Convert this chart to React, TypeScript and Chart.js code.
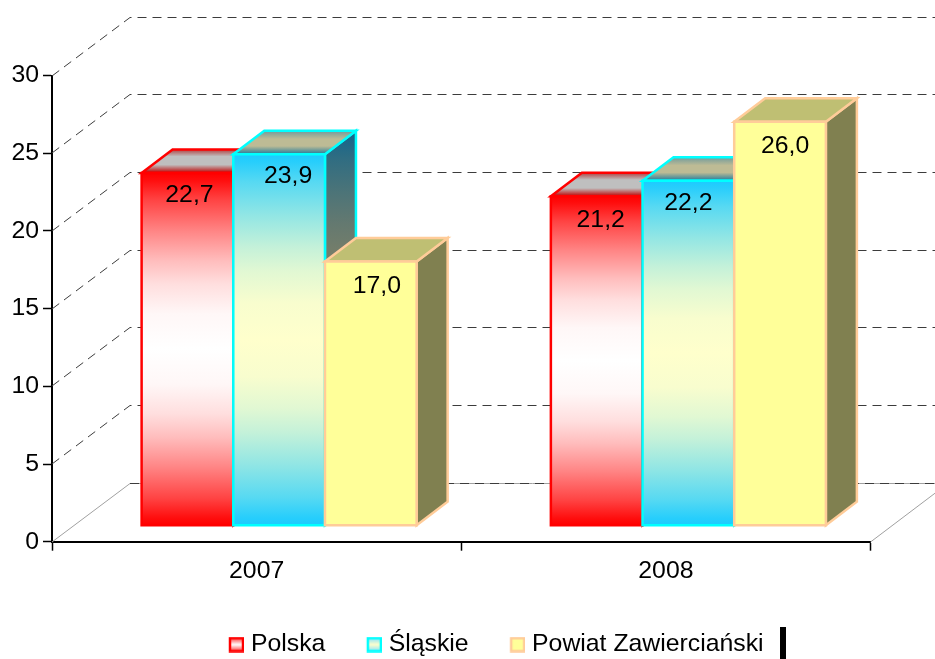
import React, { useEffect, useRef } from "react";
import { Chart, registerables } from "chart.js";

Chart.register(...registerables);

const categories = ["2007", "2008"];
const seriesNames = ["Polska", "Śląskie", "Powiat Zawierciański"];
const polska = [22.7, 21.2];
const slaskie = [23.9, 22.2];
const powiat = [17.0, 26.0];
const yTicks = [0, 5, 10, 15, 20, 25, 30];

const FONT = "'Liberation Sans', Arial, sans-serif";
const FONT_SIZE = 24.8;

// 3D projection
const WALL_DX = 78;
const WALL_DY = -59;
const BAR_SHIFT_X = 22.5;
const BAR_SHIFT_Y = -16;
const DEPTH_X = 31;
const DEPTH_Y = -23.5;

type Stops = [number, string][];
type Skin = {
  edge: string;
  front: Stops;
  side: Stops;
  top: Stops;
  swatch: Stops;
};

// Soft fade from the end colour to the centre colour, as in the original gradient
const fade: [number, number][] = [
  [0, 0],
  [0.04, 0.05],
  [0.15, 0.26],
  [0.33, 0.52],
  [0.5, 0.74],
  [0.63, 0.87],
  [0.8, 0.97],
  [1, 1],
];

function mix(a: number[], b: number[], t: number) {
  return `rgb(${a.map((v, i) => Math.round(v + (b[i] - v) * t)).join(",")})`;
}

function softStops(end: number[], mid: number[]): Stops {
  const half: Stops = fade.map(([p, t]) => [p / 2, mix(end, mid, t)]);
  const other: Stops = fade
    .slice(0, -1)
    .reverse()
    .map(([p, t]) => [1 - p / 2, mix(end, mid, t)]);
  return [...half, ...other];
}

const skins: Skin[] = [
  {
    edge: "#ff0000",
    front: softStops([255, 0, 0], [255, 255, 255]),
    side: softStops([128, 0, 0], [128, 128, 128]),
    top: [[0, "#b04040"], [0.3, "#bfbfbf"], [0.65, "#bfbfbf"], [1, "#bf0000"]],
    swatch: [[0, "#ff3030"], [0.5, "#ffffff"], [1, "#ff3030"]],
  },
  {
    edge: "#00ffff",
    front: softStops([28, 203, 255], [255, 255, 204]),
    side: softStops([20, 102, 140], [128, 128, 102]),
    top: [[0, "#6f9a9c"], [0.35, "#bdbb95"], [0.65, "#bdbb95"], [1, "#1f7a9c"]],
    swatch: [[0, "#7fe0ff"], [0.5, "#ffffcc"], [1, "#7fe0ff"]],
  },
  {
    edge: "#ffcc99",
    front: [[0, "#ffff99"], [1, "#ffff99"]],
    side: [[0, "#808050"], [1, "#808050"]],
    top: [[0, "#bfbf73"], [1, "#bfbf73"]],
    swatch: [[0, "#ffff99"], [1, "#ffff99"]],
  },
];

// Small horizontal / vertical nudges of the value labels, per dataset and category
const labelNudge = [
  [[2, 22], [4, 24]],
  [[9, 22], [0, 22]],
  [[6, 25], [5, 24.5]],
];

function fillGradient(
  ctx: CanvasRenderingContext2D,
  y0: number,
  y1: number,
  stops: Stops
) {
  const g = ctx.createLinearGradient(0, y0, 0, y1);
  stops.forEach(([o, c]) => g.addColorStop(o, c));
  return g;
}

function swatch(skin: Skin) {
  const c = document.createElement("canvas");
  c.width = 51;
  c.height = 16;
  const ctx = c.getContext("2d")!;
  ctx.fillStyle = fillGradient(ctx, 1, 15, skin.swatch);
  ctx.fillRect(37, 1, 13, 14);
  ctx.strokeStyle = skin.edge;
  ctx.lineWidth = 2.5;
  ctx.strokeRect(37, 1.5, 13, 13);
  return c;
}

function poly(ctx: CanvasRenderingContext2D, pts: number[][]) {
  ctx.beginPath();
  pts.forEach(([x, y], i) => (i ? ctx.lineTo(x, y) : ctx.moveTo(x, y)));
  ctx.closePath();
}

const wallsPlugin = {
  id: "walls",
  beforeDatasetsDraw(chart: any) {
    const { ctx, scales, chartArea } = chart;
    const y = scales.y;
    const left = chartArea.left;
    const right = chartArea.right;
    ctx.save();
    ctx.lineWidth = 1;
    yTicks.forEach((v) => {
      const py = Math.round(y.getPixelForValue(v));
      const by = py + WALL_DY + 0.5;
      if (v === 0) {
        ctx.strokeStyle = "#a0a0a0";
        ctx.setLineDash([]);
        ctx.beginPath();
        ctx.moveTo(left, py);
        ctx.lineTo(left + WALL_DX, by);
        ctx.lineTo(935, by);
        ctx.moveTo(right, py);
        ctx.lineTo(right + WALL_DX, py + WALL_DY);
        ctx.stroke();
      }
      ctx.strokeStyle = "#3c3c3c";
      ctx.setLineDash([9, 6]);
      ctx.beginPath();
      if (v !== 0) {
        ctx.moveTo(left, py);
        ctx.lineTo(left + WALL_DX, by);
      } else {
        ctx.moveTo(left + WALL_DX, by);
      }
      ctx.lineTo(935, by);
      ctx.stroke();
    });
    ctx.restore();
  },
};

const barsPlugin = {
  id: "bars3d",
  afterDatasetsDraw(chart: any) {
    const { ctx } = chart;
    const labels: [string, number, number][] = [];
    chart.data.datasets.forEach((ds: any, di: number) => {
      const skin = skins[di];
      chart.getDatasetMeta(di).data.forEach((bar: any, i: number) => {
        const x0 = bar.x - bar.width / 2 + BAR_SHIFT_X;
        const x1 = bar.x + bar.width / 2 + BAR_SHIFT_X;
        const top = bar.y + BAR_SHIFT_Y;
        const base = bar.base + BAR_SHIFT_Y;
        ctx.save();
        ctx.lineJoin = "miter";
        ctx.lineWidth = 2.5;
        ctx.strokeStyle = skin.edge;
        // side face
        poly(ctx, [[x1, top], [x1 + DEPTH_X, top + DEPTH_Y], [x1 + DEPTH_X, base + DEPTH_Y], [x1, base]]);
        ctx.fillStyle = fillGradient(ctx, top + DEPTH_Y, base + DEPTH_Y, skin.side);
        ctx.fill();
        ctx.stroke();
        // top face
        poly(ctx, [[x0, top], [x0 + DEPTH_X, top + DEPTH_Y], [x1 + DEPTH_X, top + DEPTH_Y], [x1, top]]);
        ctx.fillStyle = fillGradient(ctx, top + DEPTH_Y, top, skin.top);
        ctx.fill();
        ctx.stroke();
        // front face
        poly(ctx, [[x0, top], [x1, top], [x1, base], [x0, base]]);
        ctx.fillStyle = fillGradient(ctx, top, base, skin.front);
        ctx.fill();
        ctx.stroke();
        ctx.restore();
        const [nx, ny] = labelNudge[di][i];
        labels.push([
          ds.data[i].toFixed(1).replace(".", ","),
          (x0 + x1) / 2 + nx,
          top + ny,
        ]);
      });
    });
    ctx.save();
    ctx.fillStyle = "#000";
    ctx.font = `${FONT_SIZE}px ${FONT}`;
    ctx.textAlign = "center";
    ctx.textBaseline = "middle";
    labels.forEach(([t, x, y]) => ctx.fillText(t, x, y));
    ctx.restore();
  },
  afterLayout(chart: any) {
    const legend = chart.legend;
    if (legend) {
      legend.left = 187.5;
      legend.top += 8;
      legend.bottom += 8;
    }
  },
  afterDraw(chart: any) {
    const { ctx } = chart;
    ctx.save();
    ctx.fillStyle = "#000";
    ctx.fillRect(780, 627, 6, 32);
    ctx.restore();
  },
};

export default function App() {
  const ref = useRef<HTMLCanvasElement>(null);
  useEffect(() => {
    document.body.style.margin = "0";
    const swatches = skins.map(swatch);
    const tickFont = { family: FONT, size: FONT_SIZE };
    const chart = new Chart(ref.current!, {
      type: "bar",
      data: {
        labels: categories,
        datasets: [polska, slaskie, powiat].map((data, i) => ({
          label: seriesNames[i],
          data,
          backgroundColor: "rgba(0,0,0,0)",
          borderWidth: 0,
          categoryPercentage: 0.672,
          barPercentage: 1,
        })),
      },
      options: {
        responsive: false,
        animation: false,
        events: [],
        layout: { padding: { top: 75.5, right: 64.5, left: 0, bottom: 0 } },
        scales: {
          x: {
            grid: {
              drawOnChartArea: false,
              tickLength: 9,
              tickColor: "#000",
              tickWidth: 1.5,
            },
            border: { color: "#000", width: 2 },
            ticks: { color: "#000", font: tickFont, padding: 6, maxRotation: 0 },
            afterFit(s: any) {
              s.height = 71.5;
            },
          },
          y: {
            min: 0,
            max: 30,
            grid: {
              drawOnChartArea: false,
              tickLength: 9,
              tickColor: "#000",
              tickWidth: 1.5,
            },
            border: { color: "#000", width: 2 },
            ticks: {
              color: "#000",
              font: tickFont,
              stepSize: 5,
              padding: 4,
            },
            afterFit(s: any) {
              s.width = 52;
            },
          },
        },
        plugins: {
          tooltip: { enabled: false },
          title: { display: false },
          legend: {
            display: true,
            position: "bottom",
            align: "start",
            labels: {
              color: "#000",
              font: { family: FONT, size: FONT_SIZE },
              usePointStyle: true,
              pointStyleWidth: 40,
              boxHeight: 16,
              padding: 11,
              generateLabels: () =>
                seriesNames.map((text, i) => ({
                  text,
                  pointStyle: swatches[i],
                  datasetIndex: i,
                  hidden: false,
                  lineWidth: 0,
                })),
            },
          },
        },
      },
      plugins: [wallsPlugin, barsPlugin],
    } as any);
    return () => chart.destroy();
  }, []);
  return (
    <canvas
      ref={ref}
      width={935}
      height={659}
      style={{ position: "absolute", left: 0, top: 0, display: "block" }}
    />
  );
}
